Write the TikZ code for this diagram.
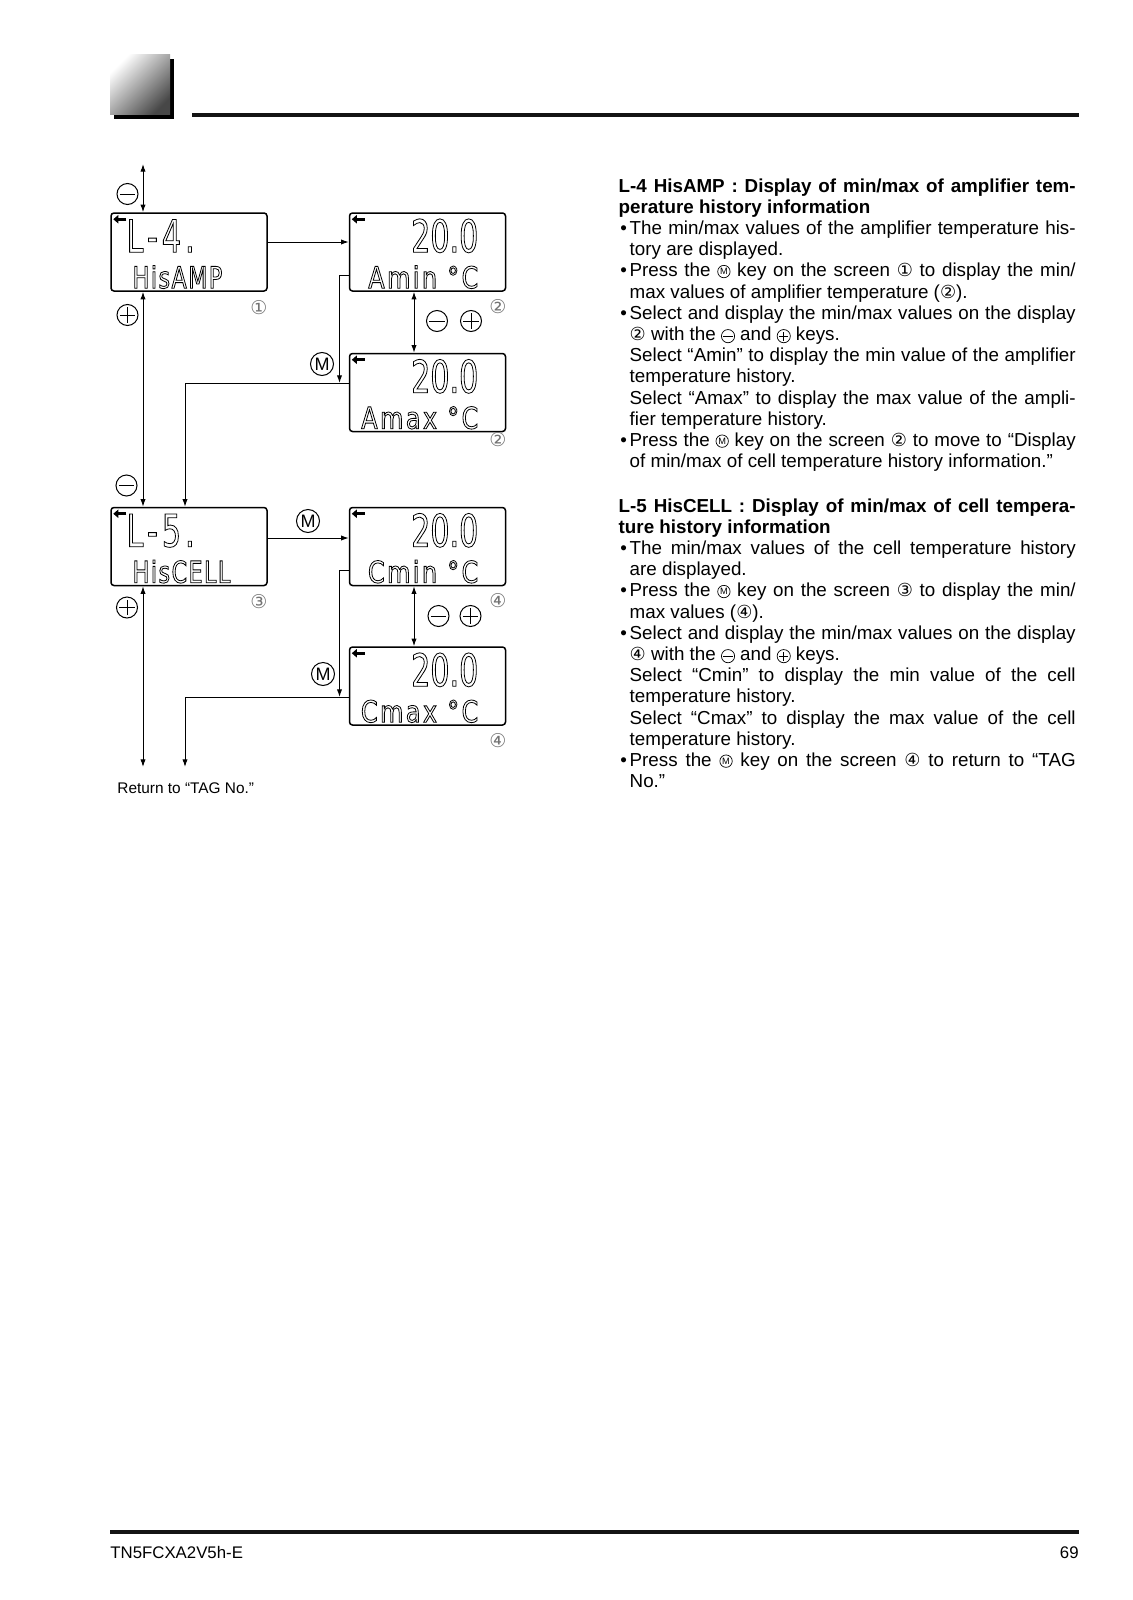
\documentclass[tikz,border=0pt]{standalone}
\usepackage{fontspec}
\setmainfont{Liberation Sans}
\newfontfamily\dejavu{DejaVu Sans}
\newfontfamily\lcdbig[FakeStretch=0.67]{DejaVu Sans}
\newfontfamily\lcdbigsp[FakeStretch=0.67,LetterSpace=9]{DejaVu Sans}
\newfontfamily\lcdsmall[FakeStretch=0.8,LetterSpace=8]{DejaVu Sans}
\newfontfamily\lcdsmallb[FakeStretch=0.74,LetterSpace=5]{DejaVu Sans}
\usetikzlibrary{arrows.meta,calc}
\newcommand\outl[1]{\special{pdf:literal direct 1 Tr 0.4 w}#1\special{pdf:literal direct 0 Tr}}
\newcommand\circnum[1]{{\dejavu\fontsize{9}{9}\selectfont #1}}
\newcommand\keyM{\raisebox{-0.6pt}{\tikz[x=1pt,y=1pt]\node[draw,circle,inner sep=0pt,minimum size=6.2pt,line width=0.35pt,font=\fontsize{4.6}{4.6}\selectfont]{M};}}
\newcommand\keyMinus{\raisebox{-1.3pt}{\tikz[x=1pt,y=1pt]{\draw[line width=0.35pt] (0,0) circle[radius=3.3pt]; \draw[line width=0.35pt] (-2.3pt,0) -- (2.3pt,0);}}}
\newcommand\keyPlus{\raisebox{-1.3pt}{\tikz[x=1pt,y=1pt]{\draw[line width=0.35pt] (0,0) circle[radius=3.3pt]; \draw[line width=0.35pt] (-2.3pt,0) -- (2.3pt,0) (0,-2.3pt) -- (0,2.3pt);}}}
\newcommand\bulitem{\par\noindent\hangindent=5.5pt\hangafter=1\relax\makebox[5.5pt][l]{\hspace{0.85pt}•}}
\newcommand\contind{\par\noindent\hangindent=5.5pt\hangafter=0\relax}
\tikzset{
  lcd/.style={draw,rectangle,rounded corners=1.5pt,line width=0.75pt,minimum width=78pt,minimum height=39pt,inner sep=0pt},
  lcdarr/.style={line width=1.3pt,-{Triangle[length=2.6pt,width=4.2pt]}},
  bigtxt/.style={inner sep=0pt,font=\lcdbig\fontsize{22.5}{22.5}\selectfont},
  bigtxtsp/.style={inner sep=0pt,font=\lcdbigsp\fontsize{22.5}{22.5}\selectfont},
  smalltxt/.style={inner sep=0pt,font=\lcdsmall\fontsize{15}{15}\selectfont},
  smalltxtb/.style={inner sep=0pt,font=\lcdsmallb\fontsize{15}{15}\selectfont},
  arr/.style={line width=0.5pt,-{Latex[length=3.8pt,width=2.6pt]}},
  barr/.style={line width=0.5pt,{Latex[length=3.8pt,width=2.6pt]}-{Latex[length=3.8pt,width=2.6pt]}},
  keyc/.style={circle,draw,line width=0.5pt,minimum size=10.5pt,inner sep=0pt},
  kminus/.style={keyc,path picture={\draw[line width=0.5pt] ([xshift=-3.8pt]path picture bounding box.center)--([xshift=3.8pt]path picture bounding box.center);}},
  kplus/.style={keyc,path picture={\draw[line width=0.5pt] ([xshift=-3.8pt]path picture bounding box.center)--([xshift=3.8pt]path picture bounding box.center) ([yshift=-3.8pt]path picture bounding box.center)--([yshift=3.8pt]path picture bounding box.center);}},
  kM/.style={keyc,minimum size=11.5pt,font=\fontsize{9}{9}\selectfont},
  cnum/.style={inner sep=0pt,text=black!55,font=\dejavu\fontsize{9.5}{10}\selectfont},
  body/.style={anchor=north west,inner sep=0pt,text width=228.5pt,align=justify,font=\fontsize{9.4}{10.6}\selectfont},
}
\begin{document}
\begin{tikzpicture}[x=0.5pt,y=-0.5pt]
\useasboundingbox (0,0) rectangle (1132,1600);
% header
\fill[black] (114,59) rectangle (174,119);
\shade[top color=white,bottom color=black!72,shading angle=45] (110,55) rectangle (170,115);
\draw[line width=2pt,black!92] (192,114.7) -- (1079,114.7);
% footer
\draw[line width=2pt,black!92] (110,1531.5) -- (1079,1531.5);
\node[anchor=base west,inner sep=0pt,font=\fontsize{8.4}{9}\selectfont] (foot1) at (110,1558) {TN5FCXA2V5h-E};
\node[anchor=base east,inner sep=0pt,font=\fontsize{8.4}{9}\selectfont] (foot2) at (1079,1558) {69};

% LCD boxes
\node[lcd] (b1) at (189,252) {};
\node[lcd] (b2) at (427.5,252) {};
\node[lcd] (b2b) at (427.5,392.5) {};
\node[lcd] (b3) at (189,546.5) {};
\node[lcd] (b4) at (427.5,546.5) {};
\node[lcd] (b4b) at (427.5,686) {};

% LCD contents
\foreach \b in {b1,b2,b2b,b3,b4,b4b}{
  \draw[lcdarr] ([shift={(16,7)}]\b.north west) -- ([shift={(3,7)}]\b.north west);
}
\node[bigtxtsp,anchor=base west] (l1a) at ([shift={(16,40)}]b1.north west) {\outl{L-4.}};
\node[smalltxtb,anchor=base west] (l1b) at ([shift={(22,76)}]b1.north west) {\outl{HisAMP}};
\node[bigtxt,anchor=base east] (l2a) at ([shift={(130,40)}]b2.north west) {\outl{20.0}};
\node[smalltxt,anchor=base east] (l2b) at ([shift={(130,76)}]b2.north west) {\outl{Amin °C}};
\node[bigtxt,anchor=base east] (l3a) at ([shift={(130,40)}]b2b.north west) {\outl{20.0}};
\node[smalltxt,anchor=base east] (l3b) at ([shift={(130,76)}]b2b.north west) {\outl{Amax °C}};
\node[bigtxtsp,anchor=base west] (l4a) at ([shift={(16,40)}]b3.north west) {\outl{L-5.}};
\node[smalltxtb,anchor=base west] (l4b) at ([shift={(22,76)}]b3.north west) {\outl{HisCELL}};
\node[bigtxt,anchor=base east] (l5a) at ([shift={(130,40)}]b4.north west) {\outl{20.0}};
\node[smalltxt,anchor=base east] (l5b) at ([shift={(130,76)}]b4.north west) {\outl{Cmin °C}};
\node[bigtxt,anchor=base east] (l6a) at ([shift={(130,40)}]b4b.north west) {\outl{20.0}};
\node[smalltxt,anchor=base east] (l6b) at ([shift={(130,76)}]b4b.north west) {\outl{Cmax °C}};

% connectors
\coordinate (vL) at (143,164);
\coordinate (ret1) at (143,767);
\coordinate (h1) at (300,242);
\coordinate (v2) at (414,0);
\coordinate (m1) at (300,275);
\coordinate (j1) at (339.5,383);
\coordinate (x185) at (185,0);
\coordinate (h2) at (300,538);
\coordinate (m2) at (300,570);
\coordinate (j2) at (339.5,697);
\coordinate (ret2) at (185,767);
\draw[barr] (vL) -- (vL |- b1.north);
\draw[barr] (vL |- b1.south) -- (vL |- b3.north);
\draw[barr] (vL |- b3.south) -- (ret1);
\draw[arr] (b1.east |- h1) -- (b2.west |- h1);
\draw[barr] (v2 |- b2.south) -- (v2 |- b2b.north);
\draw[arr] (b2.west |- m1) -| (j1);
\draw[arr] (b2b.west |- j1) -| (x185 |- b3.north);
\draw[arr] (b3.east |- h2) -- (b4.west |- h2);
\draw[barr] (v2 |- b4.south) -- (v2 |- b4b.north);
\draw[arr] (b4.west |- m2) -| (j2);
\draw[arr] (b4b.west |- j2) -| (ret2);

% keys
\node[kminus] (k1) at (127.5,194) {};
\node[kplus] (k2) at (127.5,315) {};
\node[kminus] (k3) at (126.5,485.5) {};
\node[kplus] (k4) at (127,607.5) {};
\node[kminus] (k5) at (437,321) {};
\node[kplus] (k6) at (471,321) {};
\node[kminus] (k7) at (438.5,616) {};
\node[kplus] (k8) at (470.5,616) {};
\node[kM] (k9) at (322,364) {M};
\node[kM] (k10) at (308,521) {M};
\node[kM] (k11) at (323,674) {M};

% screen numbers
\node[cnum] (n1) at (259,307.5) {①};
\node[cnum] (n2) at (498,307) {②};
\node[cnum] (n3) at (498,440) {②};
\node[cnum] (n4) at (259,601.5) {③};
\node[cnum] (n5) at (498,601) {④};
\node[cnum] (n6) at (498,741) {④};

\node[anchor=base west,inner sep=0pt,font=\fontsize{7.7}{8}\selectfont] (ret) at (117,793.5) {Return to “TAG No.”};

% text column
\node[body] (t1) at (618.3,175.7) {\parskip=0pt\relax\hyphenpenalty=10000\relax
\noindent\rule{0pt}{8pt}\textbf{L-4 HisAMP : Display of min/max of amplifier tem-\linebreak perature history information}
\bulitem The min/max values of the amplifier temperature his-\linebreak tory are displayed.
\bulitem Press the \keyM{} key on the screen \circnum{①} to display the min/\linebreak max values of amplifier temperature (\circnum{②}).
\bulitem Select and display the min/max values on the display\linebreak \circnum{②} with the \keyMinus{} and \keyPlus{} keys.
\contind Select “Amin” to display the min value of the amplifier\linebreak temperature history.
\contind Select “Amax” to display the max value of the ampli-\linebreak fier temperature history.
\bulitem Press the \keyM{} key on the screen \circnum{②} to move to “Display\linebreak of min/max of cell temperature history information.”\par};

\node[body] (t2) at (618.3,495.7) {\parskip=0pt\relax\hyphenpenalty=10000\relax
\noindent\rule{0pt}{8pt}\textbf{L-5 HisCELL : Display of min/max of cell tempera-\linebreak ture history information}
\bulitem The min/max values of the cell temperature history\linebreak are displayed.
\bulitem Press the \keyM{} key on the screen \circnum{③} to display the min/\linebreak max values (\circnum{④}).
\bulitem Select and display the min/max values on the display\linebreak \circnum{④} with the \keyMinus{} and \keyPlus{} keys.
\contind Select “Cmin” to display the min value of the cell\linebreak temperature history.
\contind Select “Cmax” to display the max value of the cell\linebreak temperature history.
\bulitem Press the \keyM{} key on the screen \circnum{④} to return to “TAG\linebreak No.”\par};
\end{tikzpicture}
\end{document}
